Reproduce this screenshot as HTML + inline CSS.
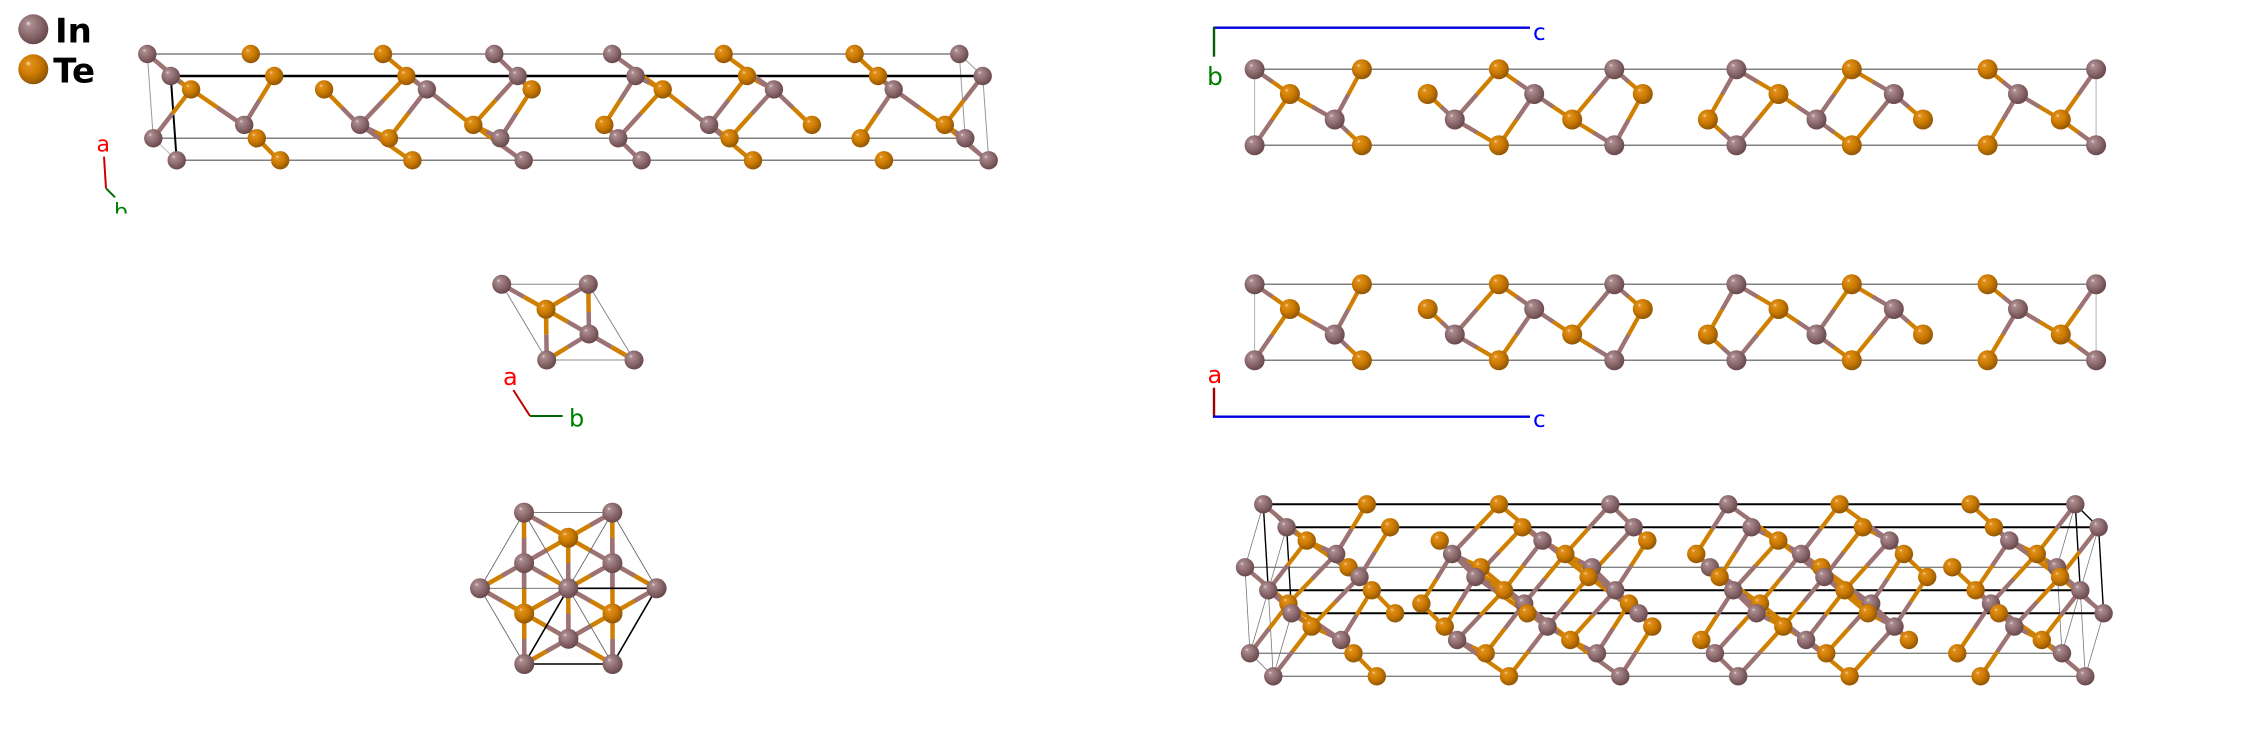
<!DOCTYPE html>
<html><head><meta charset="utf-8"><title>In-Te structure</title>
<style>html,body{margin:0;padding:0;background:#fff;}svg{display:block;}</style>
</head><body>
<svg width="2244" height="749" viewBox="0 0 2244 749" xmlns="http://www.w3.org/2000/svg" xmlns:xlink="http://www.w3.org/1999/xlink">
<defs>
<radialGradient id="gI" cx="0.42" cy="0.4" r="0.62" fx="0.33" fy="0.3">
<stop offset="0" stop-color="#eadfe0"/><stop offset="0.14" stop-color="#ab8d90"/><stop offset="0.55" stop-color="#8e6c70"/><stop offset="1" stop-color="#664649"/>
</radialGradient>
<radialGradient id="gT" cx="0.42" cy="0.4" r="0.62" fx="0.33" fy="0.3">
<stop offset="0" stop-color="#ffdca8"/><stop offset="0.14" stop-color="#df901c"/><stop offset="0.55" stop-color="#cc7a00"/><stop offset="1" stop-color="#8e5406"/>
</radialGradient>
<clipPath id="clipb"><rect x="0" y="0" width="300" height="213.5"/></clipPath>

<!-- chains, c-length 812 -->
<g id="cA"><circle cx="0" cy="0" r="9.2" fill="url(#gI)"/><circle cx="103.5" cy="0" r="9.2" fill="url(#gT)"/><circle cx="235.7" cy="0" r="9.2" fill="url(#gT)"/><circle cx="347" cy="0" r="9.2" fill="url(#gI)"/><circle cx="464.9" cy="0" r="9.2" fill="url(#gI)"/><circle cx="576.3" cy="0" r="9.2" fill="url(#gT)"/><circle cx="707.3" cy="0" r="9.2" fill="url(#gT)"/><circle cx="812" cy="0" r="9.2" fill="url(#gI)"/></g>
<g id="cB"><circle cx="34" cy="0" r="9.2" fill="url(#gT)"/><circle cx="167" cy="0" r="9.2" fill="url(#gT)"/><circle cx="269.8" cy="0" r="9.2" fill="url(#gI)"/><circle cx="374.6" cy="0" r="9.2" fill="url(#gT)"/><circle cx="505.6" cy="0" r="9.2" fill="url(#gT)"/><circle cx="616.8" cy="0" r="9.2" fill="url(#gI)"/><circle cx="736.6" cy="0" r="9.2" fill="url(#gI)"/></g>
<g id="cC"><circle cx="77.3" cy="0" r="9.2" fill="url(#gI)"/><circle cx="193.2" cy="0" r="9.2" fill="url(#gI)"/><circle cx="306.4" cy="0" r="9.2" fill="url(#gT)"/><circle cx="437.4" cy="0" r="9.2" fill="url(#gT)"/><circle cx="542.2" cy="0" r="9.2" fill="url(#gI)"/><circle cx="645" cy="0" r="9.2" fill="url(#gT)"/><circle cx="777.9" cy="0" r="9.2" fill="url(#gT)"/></g>

<!-- chains, c-length 841.5 -->
<g id="kA"><circle cx="0" cy="0" r="10" fill="url(#gI)"/><circle cx="107.3" cy="0" r="10" fill="url(#gT)"/><circle cx="244.3" cy="0" r="10" fill="url(#gT)"/><circle cx="359.7" cy="0" r="10" fill="url(#gI)"/><circle cx="481.8" cy="0" r="10" fill="url(#gI)"/><circle cx="597.2" cy="0" r="10" fill="url(#gT)"/><circle cx="733" cy="0" r="10" fill="url(#gT)"/><circle cx="841.5" cy="0" r="10" fill="url(#gI)"/></g>
<g id="kB"><circle cx="35.3" cy="0" r="10" fill="url(#gT)"/><circle cx="173.1" cy="0" r="10" fill="url(#gT)"/><circle cx="279.6" cy="0" r="10" fill="url(#gI)"/><circle cx="388.2" cy="0" r="10" fill="url(#gT)"/><circle cx="523.9" cy="0" r="10" fill="url(#gT)"/><circle cx="639.2" cy="0" r="10" fill="url(#gI)"/><circle cx="763.4" cy="0" r="10" fill="url(#gI)"/></g>
<g id="kC"><circle cx="80.1" cy="0" r="10" fill="url(#gI)"/><circle cx="200.2" cy="0" r="10" fill="url(#gI)"/><circle cx="317.6" cy="0" r="10" fill="url(#gT)"/><circle cx="453.3" cy="0" r="10" fill="url(#gT)"/><circle cx="561.9" cy="0" r="10" fill="url(#gI)"/><circle cx="668.4" cy="0" r="10" fill="url(#gT)"/><circle cx="806.2" cy="0" r="10" fill="url(#gT)"/></g>

<!-- bond groups (paths start at In end), c-length 812 -->
<g id="gAB1"><path pathLength="2" d="M0 0L43.4 36.3"/><path pathLength="2" d="M279.2 36.3L235.7 0"/><path pathLength="2" d="M347 0L384 36.3"/><path pathLength="2" d="M464.9 0L515 36.3"/><path pathLength="2" d="M626.2 36.3L576.3 0"/><path pathLength="2" d="M746 36.3L707.3 0"/></g>
<g id="gAB2"><path pathLength="2" d="M0 0L20.1 13.3"/><path pathLength="2" d="M255.9 13.3L235.7 0"/><path pathLength="2" d="M347 0L360.7 13.3"/><path pathLength="2" d="M464.9 0L491.7 13.3"/><path pathLength="2" d="M602.9 13.3L576.3 0"/><path pathLength="2" d="M722.7 13.3L707.3 0"/></g>
<g id="gAB3"><path pathLength="2" d="M0 0L38.4 -49.7"/><path pathLength="2" d="M274.2 -49.7L235.7 0"/><path pathLength="2" d="M347 0L379 -49.7"/><path pathLength="2" d="M464.9 0L510 -49.7"/><path pathLength="2" d="M621.2 -49.7L576.3 0"/><path pathLength="2" d="M741 -49.7L707.3 0"/></g>
<g id="gBC1"><path pathLength="2" d="M86.7 36.3L34 0"/><path pathLength="2" d="M202.6 36.3L167 0"/><path pathLength="2" d="M269.8 0L315.8 36.3"/><path pathLength="2" d="M551.6 36.3L505.6 0"/><path pathLength="2" d="M616.8 0L654.4 36.3"/><path pathLength="2" d="M736.6 0L787.3 36.3"/></g>
<g id="gBC2"><path pathLength="2" d="M63.4 13.3L34 0"/><path pathLength="2" d="M179.3 13.3L167 0"/><path pathLength="2" d="M269.8 0L292.5 13.3"/><path pathLength="2" d="M528.3 13.3L505.6 0"/><path pathLength="2" d="M616.8 0L631.1 13.3"/><path pathLength="2" d="M736.6 0L764 13.3"/></g>
<g id="gBC3"><path pathLength="2" d="M81.7 -49.7L34 0"/><path pathLength="2" d="M197.6 -49.7L167 0"/><path pathLength="2" d="M269.8 0L310.8 -49.7"/><path pathLength="2" d="M546.6 -49.7L505.6 0"/><path pathLength="2" d="M616.8 0L649.4 -49.7"/><path pathLength="2" d="M736.6 0L782.3 -49.7"/></g>
<g id="gCA1"><path pathLength="2" d="M77.3 0L112.9 36.3"/><path pathLength="2" d="M193.2 0L245.1 36.3"/><path pathLength="2" d="M356.4 36.3L306.4 0"/><path pathLength="2" d="M474.3 36.3L437.4 0"/><path pathLength="2" d="M542.2 0L585.7 36.3"/><path pathLength="2" d="M821.4 36.3L777.9 0"/></g>
<g id="gCA2"><path pathLength="2" d="M77.3 0L89.6 13.3"/><path pathLength="2" d="M193.2 0L221.8 13.3"/><path pathLength="2" d="M333.1 13.3L306.4 0"/><path pathLength="2" d="M451 13.3L437.4 0"/><path pathLength="2" d="M542.2 0L562.4 13.3"/><path pathLength="2" d="M798.1 13.3L777.9 0"/></g>
<g id="gCA3"><path pathLength="2" d="M77.3 0L107.9 -49.7"/><path pathLength="2" d="M193.2 0L240.1 -49.7"/><path pathLength="2" d="M351.4 -49.7L306.4 0"/><path pathLength="2" d="M469.3 -49.7L437.4 0"/><path pathLength="2" d="M542.2 0L580.7 -49.7"/><path pathLength="2" d="M816.4 -49.7L777.9 0"/></g>

<!-- bond groups c-length 841.5 (b-c / a-c views) -->
<g id="hAB1"><path pathLength="2" d="M0 0L35.3 24.7"/><path pathLength="2" d="M279.6 24.7L244.3 0"/><path pathLength="2" d="M359.7 0L388.2 24.7"/><path pathLength="2" d="M481.8 0L523.9 24.7"/><path pathLength="2" d="M639.2 24.7L597.2 0"/><path pathLength="2" d="M763.4 24.7L733 0"/></g>
<g id="hAB2"><path pathLength="2" d="M0 0L35.3 -51.3"/><path pathLength="2" d="M279.6 -51.3L244.3 0"/><path pathLength="2" d="M359.7 0L388.2 -51.3"/><path pathLength="2" d="M481.8 0L523.9 -51.3"/><path pathLength="2" d="M639.2 -51.3L597.2 0"/><path pathLength="2" d="M763.4 -51.3L733 0"/></g>
<g id="hBC"><path pathLength="2" d="M80.1 25.5L35.3 0"/><path pathLength="2" d="M200.2 25.5L173.1 0"/><path pathLength="2" d="M279.6 0L317.6 25.5"/><path pathLength="2" d="M561.9 25.5L523.9 0"/><path pathLength="2" d="M639.2 0L668.4 25.5"/><path pathLength="2" d="M763.4 0L806.2 25.5"/></g>
<g id="hCA1"><path pathLength="2" d="M80.1 0L107.3 25.8"/><path pathLength="2" d="M200.2 0L244.3 25.8"/><path pathLength="2" d="M359.7 25.8L317.6 0"/><path pathLength="2" d="M481.8 25.8L453.3 0"/><path pathLength="2" d="M561.9 0L597.2 25.8"/><path pathLength="2" d="M841.5 25.8L806.2 0"/></g>
<g id="hCA2"><path pathLength="2" d="M80.1 0L107.3 -50.2"/><path pathLength="2" d="M200.2 0L244.3 -50.2"/><path pathLength="2" d="M359.7 -50.2L317.6 0"/><path pathLength="2" d="M481.8 -50.2L453.3 0"/><path pathLength="2" d="M561.9 0L597.2 -50.2"/><path pathLength="2" d="M841.5 -50.2L806.2 0"/></g>

<g id="bbc" fill="none">
<use href="#hAB1" x="0" y="0"/><use href="#hAB2" x="0" y="76"/><use href="#hBC" x="0" y="24.7"/><use href="#hCA1" x="0" y="50.2"/><use href="#hCA2" x="0" y="50.2"/>
</g>
<g id="bcp">
<line x1="0" y1="0" x2="841.5" y2="0" stroke="#808080" stroke-width="1.5"/>
<line x1="0" y1="76" x2="841.5" y2="76" stroke="#808080" stroke-width="1.5"/>
<line x1="0" y1="0" x2="0" y2="76" stroke="#b0b0b0" stroke-width="1"/>
<line x1="841.5" y1="0" x2="841.5" y2="76" stroke="#b0b0b0" stroke-width="1"/>
<use href="#bbc" stroke="#d08000" stroke-width="4.2"/>
<use href="#bbc" stroke="#9b7377" stroke-width="4.2" stroke-dasharray="1 1"/>
<use href="#kA" x="0" y="0"/><use href="#kA" x="0" y="76"/><use href="#kB" x="0" y="24.7"/><use href="#kC" x="0" y="50.2"/>
</g>

<!-- top-left bonds -->
<g id="bT" fill="none">
<use href="#gAB1" x="147.3" y="54"/><use href="#gAB2" x="170.7" y="76"/><use href="#gAB3" x="153.3" y="138.3"/>
<use href="#gBC1" x="157.1" y="89.4"/>
<use href="#gCA1" x="166.9" y="124.9"/><use href="#gCA2" x="166.9" y="124.9"/><use href="#gCA3" x="166.9" y="124.9"/>
</g>

<!-- perspective bonds -->
<g id="bP" fill="none">
<use href="#gAB1" x="1263.3" y="504.3"/><use href="#gAB1" x="1245" y="567.3"/><use href="#gAB1" x="1268.3" y="590.3"/>
<use href="#gAB2" x="1286.6" y="527.3"/><use href="#gAB2" x="1268.3" y="590.3"/><use href="#gAB2" x="1291.6" y="613.3"/>
<use href="#gAB3" x="1268.3" y="590.3"/><use href="#gAB3" x="1250" y="653.3"/><use href="#gAB3" x="1273.3" y="676.3"/>
<use href="#gBC1" x="1272.7" y="540.6"/><use href="#gBC1" x="1254.4" y="603.6"/>
<use href="#gBC2" x="1272.7" y="540.6"/><use href="#gBC2" x="1277.7" y="626.6"/>
<use href="#gBC3" x="1254.4" y="603.6"/><use href="#gBC3" x="1277.7" y="626.6"/>
<use href="#gCA1" x="1258.9" y="554"/><use href="#gCA1" x="1282.2" y="577"/><use href="#gCA1" x="1263.9" y="640"/>
<use href="#gCA2" x="1258.9" y="554"/><use href="#gCA2" x="1282.2" y="577"/><use href="#gCA2" x="1263.9" y="640"/>
<use href="#gCA3" x="1258.9" y="554"/><use href="#gCA3" x="1282.2" y="577"/><use href="#gCA3" x="1263.9" y="640"/>
</g>

<!-- perspective face edges -->
<g id="pf">
<g stroke="#777" stroke-width="0.8">
<line x1="28.3" y1="109" x2="10" y2="172"/><line x1="10" y1="172" x2="-13.3" y2="149"/><line x1="-13.3" y1="149" x2="-18.3" y2="63"/><line x1="-18.3" y1="63" x2="0" y2="0"/>
<line x1="5" y1="86" x2="-18.3" y2="63"/><line x1="5" y1="86" x2="-13.3" y2="149"/><line x1="5" y1="86" x2="10" y2="172"/><line x1="5" y1="86" x2="23.3" y2="23"/>
</g>
<g stroke="#000" stroke-width="1.4">
<line x1="0" y1="0" x2="23.3" y2="23"/><line x1="23.3" y1="23" x2="28.3" y2="109"/><line x1="28.3" y1="109" x2="5" y2="86"/><line x1="5" y1="86" x2="0" y2="0"/>
</g>
</g>

<!-- hex view bonds -->
<g id="hx" fill="none">
<path pathLength="2" d="M524.1 563.1L568.3 588.3"/><path pathLength="2" d="M524.1 563.1L480 588.3"/><path pathLength="2" d="M524.1 563.1L524 512.6"/>
<path pathLength="2" d="M612.4 563.1L656.6 588.3"/><path pathLength="2" d="M612.4 563.1L568.3 588.3"/><path pathLength="2" d="M612.4 563.1L612.3 512.6"/>
<path pathLength="2" d="M568.4 638.8L612.6 664"/><path pathLength="2" d="M568.4 638.8L524.3 664"/><path pathLength="2" d="M568.4 638.8L568.3 588.3"/>
<path pathLength="2" d="M612.4 563.1L568.2 537.8"/><path pathLength="2" d="M524.1 563.1L568.2 537.8"/><path pathLength="2" d="M568.4 638.8L524.2 613.5"/>
<path pathLength="2" d="M524.1 563.1L524.2 613.5"/><path pathLength="2" d="M568.4 638.8L612.5 613.5"/><path pathLength="2" d="M612.4 563.1L612.5 613.5"/>
<path pathLength="2" d="M524 512.6L568.2 537.8"/><path pathLength="2" d="M612.3 512.6L568.2 537.8"/><path pathLength="2" d="M480 588.3L524.2 613.5"/>
<path pathLength="2" d="M568.3 588.3L612.5 613.5"/><path pathLength="2" d="M568.3 588.3L524.2 613.5"/><path pathLength="2" d="M568.3 588.3L568.2 537.8"/>
<path pathLength="2" d="M656.6 588.3L612.5 613.5"/><path pathLength="2" d="M524.3 664L524.2 613.5"/><path pathLength="2" d="M612.6 664L612.5 613.5"/>
</g>
</defs>

<rect x="0" y="0" width="2244" height="749" fill="#fff"/>

<!-- ===== top-left panel ===== -->
<g>
<line x1="147.3" y1="54" x2="959.3" y2="54" stroke="#808080" stroke-width="1.5"/>
<line x1="153.3" y1="138.3" x2="965.3" y2="138.3" stroke="#808080" stroke-width="1.5"/>
<line x1="176.7" y1="160.3" x2="988.7" y2="160.3" stroke="#808080" stroke-width="1.5"/>
<line x1="147.3" y1="54" x2="153.3" y2="138.3" stroke="#999" stroke-width="1"/>
<line x1="153.3" y1="138.3" x2="176.7" y2="160.3" stroke="#bbb" stroke-width="1"/>
<line x1="959.3" y1="54" x2="982.7" y2="76" stroke="#999" stroke-width="1"/>
<line x1="959.3" y1="54" x2="965.3" y2="138.3" stroke="#999" stroke-width="1"/>
<line x1="982.7" y1="76" x2="988.7" y2="160.3" stroke="#999" stroke-width="1"/>
<line x1="965.3" y1="138.3" x2="988.7" y2="160.3" stroke="#999" stroke-width="1"/>
<line x1="170.7" y1="76" x2="982.7" y2="76" stroke="#000" stroke-width="2.5"/>
<line x1="147.3" y1="54" x2="170.7" y2="76" stroke="#000" stroke-width="2"/>
<line x1="170.7" y1="76" x2="176.7" y2="160.3" stroke="#000" stroke-width="2"/>
<use href="#bT" stroke="#d08000" stroke-width="4.3"/>
<use href="#bT" stroke="#9b7377" stroke-width="4.3" stroke-dasharray="1 1"/>
<use href="#cA" x="147.3" y="54"/>
<use href="#cA" x="153.3" y="138.3"/>
<use href="#cB" x="157.1" y="89.4"/>
<use href="#cC" x="166.9" y="124.9"/>
<use href="#cA" x="170.7" y="76"/>
<use href="#cA" x="176.7" y="160.3"/>
</g>

<!-- ===== b-c and a-c views ===== -->
<use href="#bcp" x="1254.6" y="69.3"/>
<use href="#bcp" x="1254.6" y="284.3"/>

<!-- ===== perspective view ===== -->
<g>
<g stroke="#808080" stroke-width="1.3">
<line x1="1245" y1="567.3" x2="2057" y2="567.3"/>
<line x1="1250" y1="653.3" x2="2062" y2="653.3"/>
<line x1="1273.3" y1="676.3" x2="2085.3" y2="676.3"/>
</g>
<use href="#pf" x="1263.3" y="504.3"/>
<use href="#pf" x="2075.3" y="504.3"/>
<g stroke="#000" stroke-width="2">
<line x1="1263.3" y1="504.3" x2="2075.3" y2="504.3"/>
<line x1="1286.6" y1="527.3" x2="2098.6" y2="527.3"/>
<line x1="1268.3" y1="590.3" x2="2080.3" y2="590.3"/>
<line x1="1291.6" y1="613.3" x2="2103.6" y2="613.3"/>
</g>
<use href="#bP" stroke="#d08000" stroke-width="4.2"/>
<use href="#bP" stroke="#9b7377" stroke-width="4.2" stroke-dasharray="1 1"/>
<use href="#cA" x="1245" y="567.3"/>
<use href="#cA" x="1250" y="653.3"/>
<use href="#cB" x="1254.4" y="603.6"/>
<use href="#cC" x="1258.9" y="554"/>
<use href="#cA" x="1263.3" y="504.3"/>
<use href="#cC" x="1263.9" y="640"/>
<use href="#cA" x="1268.3" y="590.3"/>
<use href="#cB" x="1272.7" y="540.6"/>
<use href="#cA" x="1273.3" y="676.3"/>
<use href="#cB" x="1277.7" y="626.6"/>
<use href="#cC" x="1282.2" y="577"/>
<use href="#cA" x="1286.6" y="527.3"/>
<use href="#cA" x="1291.6" y="613.3"/>
</g>

<!-- ===== hex view (along c) ===== -->
<g>
<use href="#hx" stroke="#d08000" stroke-width="4.5"/>
<use href="#hx" stroke="#9b7377" stroke-width="4.5" stroke-dasharray="1 1"/>
<g stroke="#666" stroke-width="0.9">
<line x1="524" y1="512.6" x2="612.3" y2="512.6"/><line x1="524" y1="512.6" x2="480" y2="588.3"/><line x1="480" y1="588.3" x2="524.3" y2="664"/><line x1="612.3" y1="512.6" x2="656.6" y2="588.3"/>
<line x1="568.3" y1="588.3" x2="524" y2="512.6"/><line x1="568.3" y1="588.3" x2="612.3" y2="512.6"/><line x1="568.3" y1="588.3" x2="480" y2="588.3"/><line x1="568.3" y1="588.3" x2="612.6" y2="664"/>
</g>
<g stroke="#000" stroke-width="1.6">
<line x1="568.3" y1="588.3" x2="656.6" y2="588.3"/><line x1="656.6" y1="588.3" x2="612.6" y2="664"/><line x1="612.6" y1="664" x2="524.3" y2="664"/><line x1="524.3" y1="664" x2="568.3" y2="588.3"/>
</g>
<circle cx="524.1" cy="563.1" r="10" fill="url(#gI)"/><circle cx="612.4" cy="563.1" r="10" fill="url(#gI)"/><circle cx="568.4" cy="638.8" r="10" fill="url(#gI)"/>
<circle cx="568.2" cy="537.8" r="10" fill="url(#gT)"/><circle cx="524.2" cy="613.5" r="10" fill="url(#gT)"/><circle cx="612.5" cy="613.5" r="10" fill="url(#gT)"/>
<circle cx="524" cy="512.6" r="10" fill="url(#gI)"/><circle cx="612.3" cy="512.6" r="10" fill="url(#gI)"/><circle cx="480" cy="588.3" r="10" fill="url(#gI)"/><circle cx="568.3" cy="588.3" r="10" fill="url(#gI)"/><circle cx="656.6" cy="588.3" r="10" fill="url(#gI)"/><circle cx="524.3" cy="664" r="10" fill="url(#gI)"/><circle cx="612.6" cy="664" r="10" fill="url(#gI)"/>
</g>

<!-- ===== middle-left small cell ===== -->
<g>
<g stroke="#888" stroke-width="1">
<line x1="501.7" y1="284.3" x2="588.3" y2="284.3"/>
<line x1="501.7" y1="284.3" x2="546.7" y2="360"/>
<line x1="588.3" y1="284.3" x2="634" y2="360"/>
<line x1="546.7" y1="360" x2="634" y2="360"/>
</g>
<g stroke-width="4.5">
<line x1="501.7" y1="284.3" x2="523.85" y2="296.8" stroke="#9b7377"/><line x1="523.85" y1="296.8" x2="546" y2="309.3" stroke="#d08000"/>
<line x1="546" y1="309.3" x2="567.15" y2="296.8" stroke="#d08000"/><line x1="567.15" y1="296.8" x2="588.3" y2="284.3" stroke="#9b7377"/>
<line x1="546" y1="309.3" x2="546.35" y2="334.65" stroke="#d08000"/><line x1="546.35" y1="334.65" x2="546.7" y2="360" stroke="#9b7377"/>
<line x1="546" y1="309.3" x2="567.5" y2="321.65" stroke="#d08000"/><line x1="567.5" y1="321.65" x2="589" y2="334" stroke="#9b7377"/>
<line x1="588.3" y1="284.3" x2="588.65" y2="312" stroke="#d08000"/><line x1="588.65" y1="312" x2="589" y2="334" stroke="#9b7377"/>
<line x1="589" y1="334" x2="567.85" y2="347" stroke="#9b7377"/><line x1="567.85" y1="347" x2="546.7" y2="360" stroke="#d08000"/>
<line x1="589" y1="334" x2="611.5" y2="347" stroke="#9b7377"/><line x1="611.5" y1="347" x2="634" y2="360" stroke="#d08000"/>
</g>
<circle cx="501.7" cy="284.3" r="9.5" fill="url(#gI)"/>
<circle cx="588.3" cy="284.3" r="9.5" fill="url(#gI)"/>
<circle cx="546.7" cy="360" r="9.5" fill="url(#gI)"/>
<circle cx="634" cy="360" r="9.5" fill="url(#gI)"/>
<circle cx="589" cy="334" r="9.5" fill="url(#gI)"/>
<circle cx="546" cy="309.3" r="9.5" fill="url(#gT)"/>
</g>

<!-- axes -->
<g stroke-width="2" fill="none">
<line x1="104" y1="156.7" x2="106" y2="188.3" stroke="#d00000"/>
<line x1="106" y1="188.3" x2="115" y2="197.3" stroke="#007000"/>
<line x1="513.3" y1="390" x2="530" y2="416" stroke="#c00000"/>
<line x1="530" y1="416" x2="562.7" y2="416" stroke="#006800"/>
<line x1="1213.5" y1="27.7" x2="1530" y2="27.7" stroke="#0000dd" stroke-width="2.4"/>
<line x1="1214" y1="27" x2="1214" y2="56.7" stroke="#0a5a0a" stroke-width="2.4"/>
<line x1="1214" y1="387.7" x2="1214" y2="417" stroke="#a00000" stroke-width="2.4"/>
<line x1="1213" y1="416.7" x2="1530" y2="416.7" stroke="#0000dd" stroke-width="2.4"/>
</g>

<!-- legend -->
<circle cx="33.3" cy="29.3" r="15" fill="url(#gI)"/>
<circle cx="33.3" cy="69.3" r="15" fill="url(#gT)"/>
<g font-family="'DejaVu Sans','Liberation Sans',sans-serif">
<text x="55" y="42.3" font-size="34" font-weight="bold" fill="#000">In</text>
<text x="53.3" y="82.3" font-size="34" font-weight="bold" fill="#000">Te</text>
<text x="96.5" y="151.7" font-size="22" fill="#ff0000">a</text>
<text x="114" y="219" font-size="22" fill="#008000" clip-path="url(#clipb)">b</text>
<text x="503" y="385" font-size="24" fill="#ff0000">a</text>
<text x="569" y="426.7" font-size="24" fill="#008000">b</text>
<text x="1533" y="40" font-size="23" fill="#0000ff">c</text>
<text x="1207" y="85" font-size="25" fill="#008000">b</text>
<text x="1207.5" y="383" font-size="24" fill="#ff0000">a</text>
<text x="1533" y="427" font-size="23" fill="#0000ff">c</text>
</g>
</svg>
</body></html>
